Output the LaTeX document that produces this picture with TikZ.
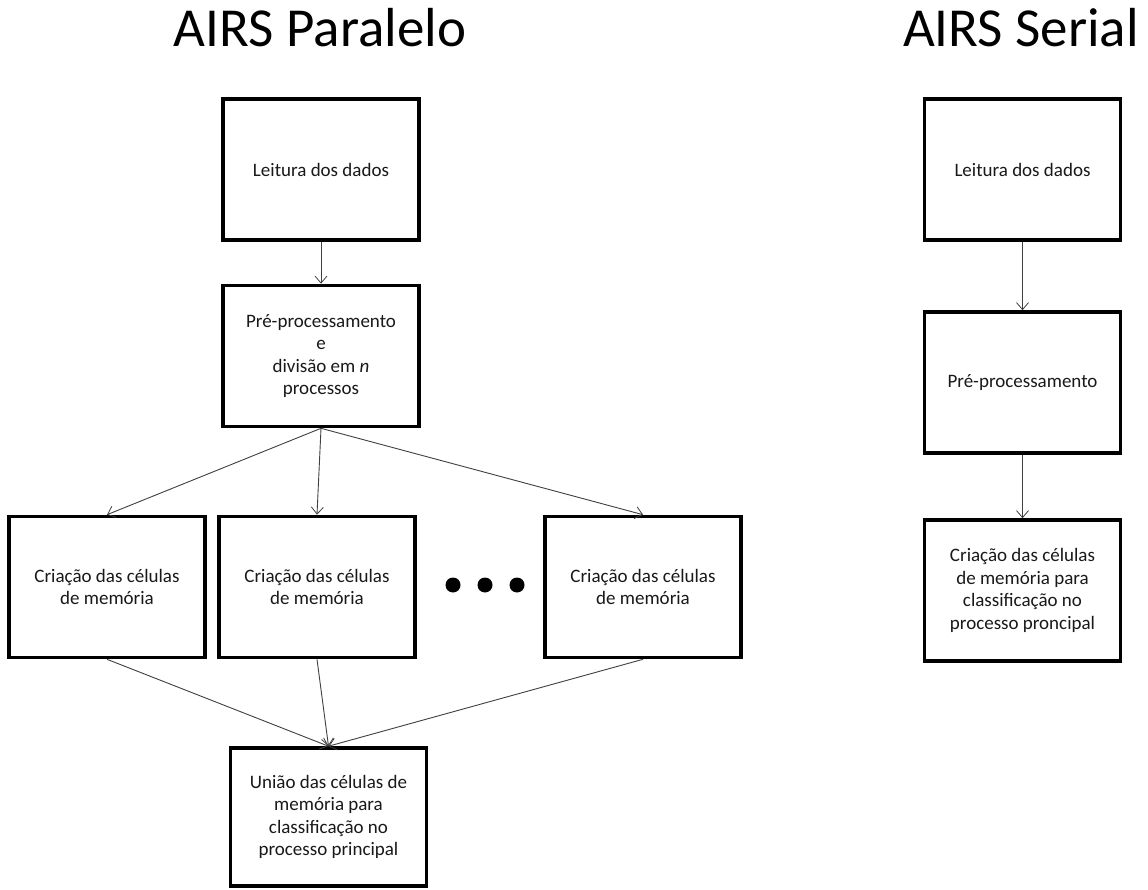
\documentclass[tikz,border=0pt]{standalone}
\usepackage{fontspec}
\setmainfont{Carlito}
\usetikzlibrary{arrows.meta}
\begin{document}
\begin{tikzpicture}[x=1pt,y=-1pt,
  box/.style={draw=black,line width=3.6pt,minimum width=196pt,minimum height=141pt,align=center,font=\fontsize{19}{22.5}\selectfont,text=black!90,inner sep=0pt},
  conn/.style={draw=black!75,line width=0.9pt,-{Straight Barb[length=7pt,width=12pt,line width=0.8pt]}},
  title/.style={font=\fontsize{55}{60}\selectfont,anchor=base,inner sep=0pt},
  bigdot/.style={circle,fill=black,inner sep=0pt,minimum size=15pt}]
\useasboundingbox[fill=white] (0,0) rectangle (1148,890);
% titles
\node[title] (t1) at (320,47) {AIRS Paralelo};
\node[title] (t2) at (1021,47) {AIRS Serial};
% parallel
\node[box] (L) at (321,169.5) {Leitura dos dados};
\node[box] (P) at (321,356) {Pré-processamento\\e\\divisão em \textit{n}\\processos};
\node[box] (A) at (107,587) {Criação das células\\de memória};
\node[box] (B) at (317,587) {Criação das células\\de memória};
\node[box] (C) at (643,587) {Criação das células\\de memória};
\node[box,minimum height=138pt] (U) at (328.5,817) {União das células de\\memória para\\classificação no\\processo principal};
\node[bigdot] (d1) at (453,585) {};
\node[bigdot] (d2) at (485,585) {};
\node[bigdot] (d3) at (517,585) {};
\draw[conn] (L.south) -- (P.north);
\draw[conn] (P.south) -- (A.north);
\draw[conn] (P.south) -- (B.north);
\draw[conn] (P.south) -- (C.north);
\draw[conn] (A.south) -- (U.north);
\draw[conn] (B.south) -- (U.north);
\draw[conn] (C.south) -- (U.north);
% serial
\node[box] (SL) at (1022.5,169.5) {Leitura dos dados};
\node[box] (SP) at (1022.5,382.5) {Pré-processamento};
\node[box] (SC) at (1022.5,590.5) {Criação das células\\de memória para\\classificação no\\processo proncipal};
\draw[conn] (SL.south) -- (SP.north);
\draw[conn] (SP.south) -- (SC.north);
\end{tikzpicture}
\end{document}
